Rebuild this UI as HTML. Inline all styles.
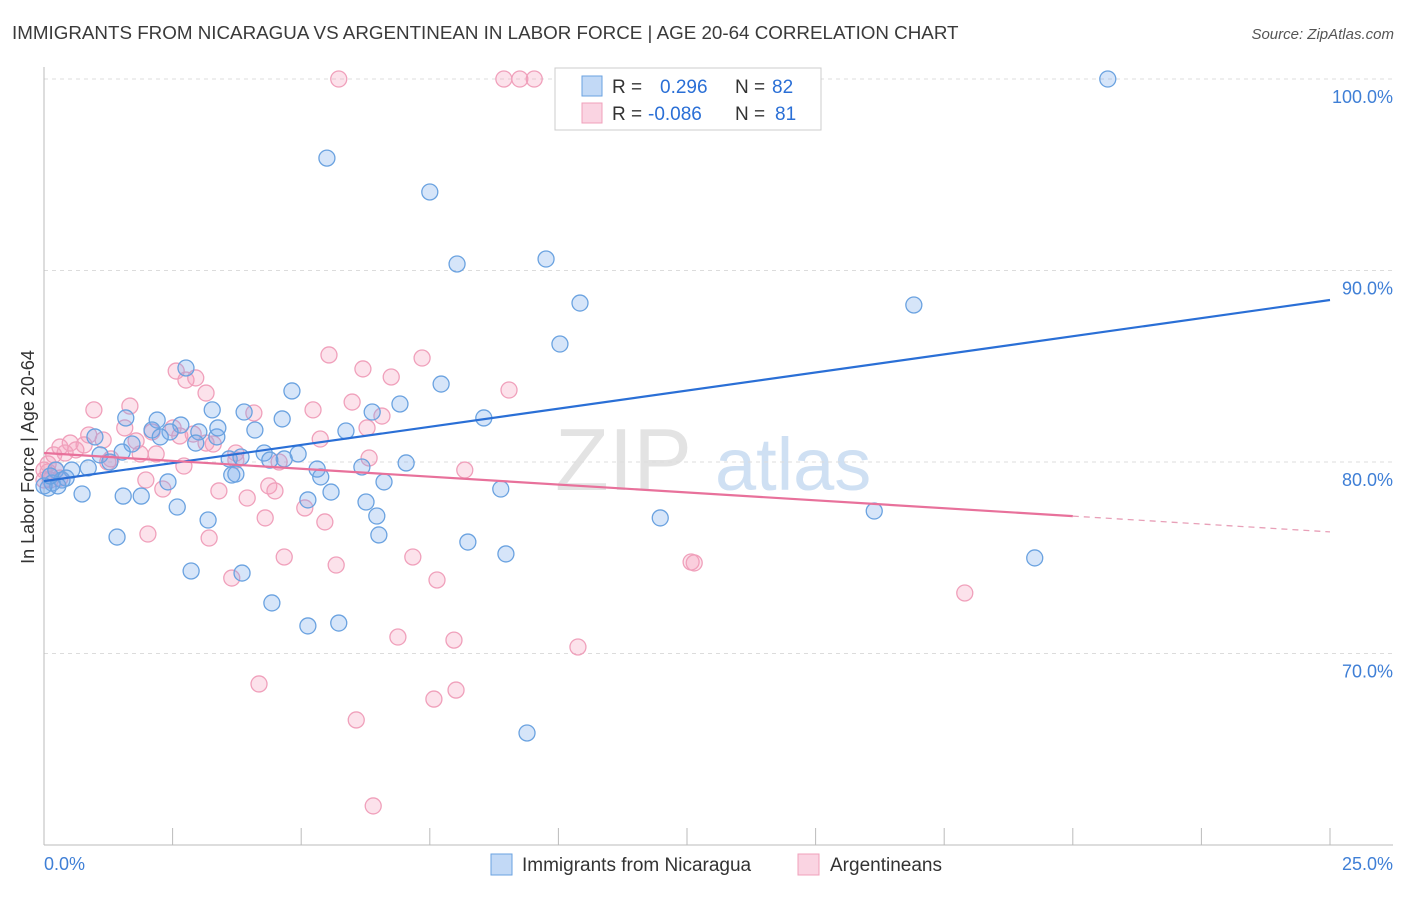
<!DOCTYPE html>
<html><head><meta charset="utf-8"><style>
body{margin:0;background:#fff;font-family:"Liberation Sans",sans-serif;}
svg text{font-family:"Liberation Sans",sans-serif;}
</style></head><body>
<svg id="chart" width="1406" height="892">
<text x="12" y="39" font-size="18.8" fill="#3a3a3a">IMMIGRANTS FROM NICARAGUA VS ARGENTINEAN IN LABOR FORCE | AGE 20-64 CORRELATION CHART</text>
<text x="1394" y="39" font-size="15" fill="#555" font-style="italic" text-anchor="end">Source: ZipAtlas.com</text>
<text x="0" y="0" font-size="18" fill="#333" transform="translate(34,457) rotate(-90)" text-anchor="middle">In Labor Force | Age 20-64</text>
<g><text x="555" y="490" font-size="88" fill="#e3e3e3" font-family="Liberation Serif">ZIP</text><text x="715" y="490" font-size="74" fill="#cfe0f3">atlas</text></g>
<g id="grid"></g><g id="axes"></g><g id="pts"></g><g id="lines"></g>
<g>
<rect x="555" y="68" width="266" height="62" fill="#fff" stroke="#ccc"/>
<rect x="582" y="76" width="20" height="20" fill="rgba(120,170,235,0.45)" stroke="#6aa2e0"/>
<rect x="582" y="103" width="20" height="20" fill="rgba(245,160,190,0.45)" stroke="#f0a0bb"/>
<text x="612" y="93" font-size="19" fill="#333">R = </text><text x="660" y="93" font-size="19" fill="#2a6fd6">0.296</text>
<text x="735" y="93" font-size="19" fill="#333">N = </text><text x="772" y="93" font-size="19" fill="#2a6fd6">82</text>
<text x="612" y="120" font-size="19" fill="#333">R = </text><text x="648" y="120" font-size="19" fill="#2a6fd6">-0.086</text>
<text x="735" y="120" font-size="19" fill="#333">N = </text><text x="775" y="120" font-size="19" fill="#2a6fd6">81</text>
</g>
<g>
<rect x="491" y="854" width="21" height="21" fill="rgba(120,170,235,0.45)" stroke="#6aa2e0"/>
<text x="522" y="871" font-size="19" fill="#333">Immigrants from Nicaragua</text>
<rect x="798" y="854" width="21" height="21" fill="rgba(245,160,190,0.45)" stroke="#f0a0bb"/>
<text x="830" y="871" font-size="19" fill="#333">Argentineans</text>
</g>
</svg>
<script>
const blueX=[5.50,7.50,8.03,9.76,10.42,16.91,20.68,10.73,10.03,2.76,7.72,4.82,3.27,3.89,6.38,6.92,8.55,4.63,1.59,2.20,2.66,2.10,2.45,4.10,5.87,0.99,2.26,3.01,3.36,2.95,1.09,1.71,1.28,1.52,4.28,4.94,4.67,3.60,3.65,3.83,0.23,0.54,0.86,0.35,0.16,0.08,0.74,1.54,1.89,2.41,3.73,5.31,5.38,6.18,7.04,6.61,5.58,5.13,6.26,6.47,6.51,8.88,2.59,3.19,1.42,8.24,8.98,2.86,3.85,4.43,5.13,5.73,9.39,11.98,16.14,19.26,0.43,0.27,0.0,0.12,3.38,4.39];
const blueY=[95.87,94.10,90.34,90.60,88.30,88.20,100,99.95,86.16,84.91,84.07,83.71,82.72,82.61,82.61,83.03,82.30,82.25,82.30,82.19,81.93,81.67,81.57,81.67,81.62,81.31,81.31,81.57,81.31,80.99,80.37,80.94,80.00,80.52,80.47,80.42,80.16,80.16,79.32,80.26,79.58,79.58,79.69,79.06,78.90,78.64,78.33,78.22,78.22,78.96,79.37,79.63,79.22,79.74,79.95,78.96,78.43,78.02,77.91,77.18,76.19,78.59,77.65,76.97,76.08,75.82,75.20,74.31,74.20,72.64,71.44,71.59,65.85,77.08,77.44,74.99,79.16,78.75,78.75,79.27,81.78,80.10];
const pinkX=[5.73,8.94,9.25,9.53,5.54,7.35,6.20,6.75,9.04,2.57,2.76,2.95,3.15,5.99,6.57,5.23,4.08,0.97,1.67,5.37,6.28,0.87,0.51,1.15,1.57,2.10,1.79,2.51,2.90,3.29,3.73,0.78,0.31,0.19,0.62,0.41,1.30,1.87,2.18,1.24,0.08,0.0,0.12,0.31,2.72,3.73,4.57,6.32,8.18,1.98,2.31,3.40,3.95,4.37,4.49,5.07,5.46,4.30,3.21,2.02,4.67,7.17,5.68,3.65,7.64,12.58,12.64,17.90,6.88,7.97,10.38,4.18,8.01,7.58,6.07,6.40,0.08,0.0,0.23,2.64,3.15];
const pinkY=[100,100,100,100,85.59,85.43,84.86,84.44,83.76,84.75,84.28,84.39,83.60,83.13,82.40,82.72,82.56,82.72,82.92,81.20,81.78,81.41,80.99,81.15,81.78,81.57,81.10,81.78,81.46,80.94,80.47,80.89,80.78,80.37,80.63,80.47,80.16,80.42,80.42,80.00,79.90,79.58,79.06,79.16,79.79,80.10,80.00,80.21,79.58,79.06,78.59,78.49,78.12,78.75,78.49,77.60,76.87,77.08,76.03,76.24,75.04,75.04,74.62,73.94,73.84,74.78,74.73,73.16,70.86,70.70,70.34,68.41,68.09,67.62,66.53,62.04,79.48,79.06,79.58,81.36,80.99];
const blueTrend=[79.0,88.46];
const pinkTrend=[80.47,76.35];
const pinkSolidEnd=20;
const yTicks=[100,90,80,70];
const xTickVals=[0,2.5,5,7.5,10,12.5,15,17.5,20,22.5,25];
const NS='http://www.w3.org/2000/svg';
const X0=44,X1=1330,Y0=845,YT=79;
const sx=v=>X0+(v/25)*(X1-X0);
const sy=v=>YT+(100-v)*(Y0-YT)/40;
function mk(tag,attrs,parent){const e=document.createElementNS(NS,tag);for(const k in attrs)e.setAttribute(k,attrs[k]);document.getElementById(parent).appendChild(e);return e;}
yTicks.forEach(v=>{
 const l=mk('line',{x1:X0,x2:1393,y1:sy(v),y2:sy(v),stroke:'#dcdcdc','stroke-dasharray':'4,4'},'grid');
 
 
 const t=mk('text',{x:1393,y:sy(v)+24,'font-size':18,fill:'#3f7fd6','text-anchor':'end'},'grid');
 t.textContent=v.toFixed(1)+'%';
 
 
});
const ax=mk('line',{x1:X0,x2:X0,y1:67,y2:Y0,stroke:'#bbb'},'axes');


const xa=mk('line',{x1:X0,x2:1393,y1:Y0,y2:Y0,stroke:'#bbb'},'axes');


xTickVals.forEach(v=>{
 const t=mk('line',{x1:sx(v),x2:sx(v),y1:828,y2:Y0,stroke:'#bbb'},'axes');
 
 
});
const l0=mk('text',{x:44,y:870,'font-size':18,fill:'#3f7fd6'},'axes');l0.textContent='0.0%';


const l1=mk('text',{x:1393,y:870,'font-size':18,fill:'#3f7fd6','text-anchor':'end'},'axes');l1.textContent='25.0%';


pinkX.forEach((v,i)=>{
 const c=mk('circle',{cx:sx(v),cy:sy(pinkY[i]),r:8,fill:'rgba(245,160,190,0.3)',stroke:'#f0a0bb','stroke-width':1.3},'pts');
 
 
});
blueX.forEach((v,i)=>{
 const c=mk('circle',{cx:sx(v),cy:sy(blueY[i]),r:8,fill:'rgba(120,170,235,0.3)',stroke:'#6aa2e0','stroke-width':1.3},'pts');
 
 
});
const bl=mk('line',{x1:sx(0),y1:sy(blueTrend[0]),x2:sx(25),y2:sy(blueTrend[1]),stroke:'#2a6fd6','stroke-width':2.2},'lines');


const pAt=x=>pinkTrend[0]+(pinkTrend[1]-pinkTrend[0])*x/25;
const pl=mk('line',{x1:sx(0),y1:sy(pAt(0)),x2:sx(pinkSolidEnd),y2:sy(pAt(pinkSolidEnd)),stroke:'#e8719b','stroke-width':2.2},'lines');


const pd=mk('line',{x1:sx(pinkSolidEnd),y1:sy(pAt(pinkSolidEnd)),x2:sx(25),y2:sy(pAt(25)),stroke:'#e8a0b8','stroke-width':1.3,'stroke-dasharray':'6,5'},'lines');


</script>
</body></html>
